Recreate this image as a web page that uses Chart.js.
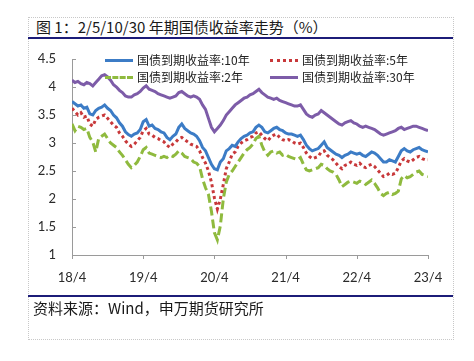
<!DOCTYPE html>
<html>
<head>
<meta charset="utf-8">
<script src="https://cdn.jsdelivr.net/npm/chart.js@4.4.1/dist/chart.umd.min.js"></script>
<style>
    body { margin: 0; background: #fff; }
    #wrap { position: relative; width: 474px; height: 361px; overflow: hidden; }
    #frame { position: absolute; left: 28px; top: 17px; width: 424px; height: 321px; border: 1px dotted #c8c8c8; }
    .rule { position: absolute; left: 28px; width: 425px; height: 2px; background: #1c1c78; }
    #title { position: absolute; left: 36px; top: 17px; font: 15px "Noto Sans CJK SC", sans-serif; color: #1a1a1a; line-height: 20px; white-space: nowrap; }
    #source { position: absolute; left: 33px; top: 298px; font: 15px "Noto Sans CJK SC", sans-serif; color: #1a1a1a; line-height: 20px; white-space: nowrap; }
    canvas { position: absolute; left: 0; top: 0; }
    .leg { position: absolute; font: 12px "Noto Sans CJK SC", sans-serif; color: #222; line-height: 16px; white-space: nowrap; }
    .leg i { display: inline-block; width: 28px; height: 0; border-top-width: 3px; vertical-align: middle; margin-right: 4px; position: relative; top: -1px; }
</style>
</head>
<body>
<div id="wrap">
    <div id="frame"></div>
    <div id="title">图 1：2/5/10/30 年期国债收益率走势（%）</div>
    <div class="rule" style="top:37px"></div>
    <canvas id="yieldChart" width="474" height="361"></canvas>
    <div class="rule" style="top:295px"></div>
    <div id="source">资料来源：Wind，申万期货研究所</div>
    <div id="legend"></div>
</div>
<script>
// series names and colours
const seriesNames = ['国债到期收益率:10年', '国债到期收益率:5年', '国债到期收益率:2年', '国债到期收益率:30年'];
const xTickLabels = ['18/4', '19/4', '20/4', '21/4', '22/4', '23/4'];

// half-month steps from 2018/4 to 2023/4
const halfMonths = Array.from({ length: 121 }, (_, i) => i / 2);

const y10 = [
    3.74, 3.70, 3.66, 3.68, 3.62, 3.64, 3.52, 3.50, 3.58, 3.62, 3.64, 3.68,
    3.62, 3.58, 3.50, 3.45, 3.36, 3.30, 3.20, 3.15, 3.12, 3.16, 3.18, 3.24,
    3.38, 3.42, 3.30, 3.32, 3.26, 3.24, 3.20, 3.18, 3.10, 3.06, 3.12, 3.16,
    3.28, 3.34, 3.26, 3.22, 3.18, 3.16, 3.12, 3.04, 2.92, 2.86, 2.74, 2.62,
    2.54, 2.52, 2.66, 2.72, 2.86, 2.90, 2.96, 2.94, 3.02, 3.08, 3.12, 3.14,
    3.18, 3.20, 3.28, 3.32, 3.28, 3.20, 3.18, 3.22, 3.26, 3.28, 3.24, 3.22,
    3.18, 3.16, 3.16, 3.14, 3.12, 3.14, 3.06, 2.96, 2.90, 2.86, 2.88, 2.90,
    2.96, 3.02, 2.92, 2.88, 2.84, 2.80, 2.78, 2.74, 2.78, 2.80, 2.84, 2.82,
    2.80, 2.82, 2.78, 2.76, 2.80, 2.84, 2.82, 2.78, 2.72, 2.66, 2.66, 2.70,
    2.68, 2.66, 2.76, 2.86, 2.90, 2.86, 2.84, 2.88, 2.90, 2.92, 2.88, 2.86,
    2.84
];
const y5 = [
    3.62, 3.56, 3.50, 3.54, 3.46, 3.48, 3.34, 3.30, 3.42, 3.46, 3.48, 3.50,
    3.44, 3.38, 3.32, 3.28, 3.18, 3.12, 3.04, 2.98, 2.94, 2.98, 3.04, 3.10,
    3.22, 3.26, 3.16, 3.14, 3.10, 3.08, 3.04, 3.02, 2.96, 2.92, 2.98, 3.02,
    3.08, 3.10, 3.06, 3.02, 2.98, 2.96, 2.94, 2.86, 2.74, 2.64, 2.50, 2.30,
    2.02, 1.82, 2.00, 2.26, 2.54, 2.66, 2.80, 2.84, 2.94, 3.00, 3.04, 3.06,
    3.10, 3.12, 3.18, 3.20, 3.14, 3.08, 3.04, 3.10, 3.14, 3.16, 3.10, 3.06,
    3.04, 3.06, 3.04, 3.00, 2.98, 3.00, 2.92, 2.82, 2.76, 2.72, 2.74, 2.76,
    2.84, 2.86, 2.78, 2.74, 2.70, 2.64, 2.58, 2.54, 2.60, 2.62, 2.66, 2.62,
    2.60, 2.64, 2.58, 2.56, 2.60, 2.62, 2.58, 2.52, 2.46, 2.40, 2.42, 2.46,
    2.44, 2.46, 2.56, 2.68, 2.72, 2.68, 2.66, 2.70, 2.74, 2.76, 2.72, 2.70,
    2.70
];
const y2 = [
    3.34, 3.22, 3.30, 3.28, 3.24, 3.26, 3.10, 3.02, 2.84, 3.08, 3.12, 3.16,
    3.08, 3.00, 2.96, 2.92, 2.84, 2.78, 2.70, 2.62, 2.56, 2.60, 2.66, 2.76,
    2.88, 2.92, 2.82, 2.80, 2.78, 2.76, 2.74, 2.76, 2.74, 2.78, 2.76, 2.80,
    2.86, 2.82, 2.76, 2.74, 2.72, 2.66, 2.64, 2.58, 2.36, 2.20, 2.08, 1.78,
    1.40, 1.27, 1.52, 2.00, 2.30, 2.44, 2.50, 2.58, 2.66, 2.74, 2.82, 2.88,
    2.92, 2.98, 3.08, 3.12, 2.96, 2.84, 2.78, 2.84, 2.86, 2.82, 2.84, 2.78,
    2.80, 2.76, 2.74, 2.72, 2.70, 2.74, 2.62, 2.52, 2.50, 2.52, 2.54, 2.56,
    2.62, 2.60, 2.54, 2.50, 2.48, 2.44, 2.34, 2.22, 2.26, 2.30, 2.32, 2.30,
    2.28, 2.32, 2.30, 2.26, 2.30, 2.34, 2.28, 2.20, 2.10, 2.06, 2.10, 2.12,
    2.08, 2.10, 2.14, 2.36, 2.42, 2.38, 2.40, 2.44, 2.48, 2.50, 2.44, 2.42,
    2.40
];
const y30 = [
    4.12, 4.08, 4.10, 4.06, 4.04, 4.08, 4.06, 4.02, 4.08, 4.14, 4.20, 4.22,
    4.18, 4.12, 4.04, 4.00, 3.94, 3.90, 3.84, 3.82, 3.82, 3.86, 3.88, 3.92,
    3.98, 4.02, 3.96, 3.94, 3.92, 3.88, 3.86, 3.84, 3.82, 3.80, 3.82, 3.84,
    3.90, 3.92, 3.88, 3.84, 3.82, 3.84, 3.82, 3.78, 3.68, 3.60, 3.44, 3.28,
    3.20, 3.26, 3.32, 3.40, 3.50, 3.56, 3.62, 3.68, 3.72, 3.76, 3.80, 3.82,
    3.86, 3.88, 3.92, 3.96, 3.90, 3.86, 3.82, 3.80, 3.78, 3.80, 3.76, 3.74,
    3.72, 3.70, 3.68, 3.66, 3.66, 3.68, 3.60, 3.52, 3.48, 3.46, 3.50, 3.52,
    3.58, 3.54, 3.50, 3.46, 3.42, 3.38, 3.34, 3.32, 3.36, 3.38, 3.40, 3.36,
    3.34, 3.30, 3.28, 3.30, 3.28, 3.26, 3.24, 3.20, 3.16, 3.14, 3.16, 3.18,
    3.20, 3.22, 3.26, 3.28, 3.24, 3.26, 3.28, 3.30, 3.30, 3.28, 3.26, 3.24,
    3.22
];

const colors = ['#3c7cc6', '#c8383a', '#8fba3e', '#7d5ca8'];
const dashes = [[], [3, 3], [9, 4], []];
const lineStyles = ['solid', 'dotted', 'dashed', 'solid'];

function toPoints(values) {
    return values.map((v, i) => ({ x: halfMonths[i], y: v }));
}

// small tick marks on both axes (grid is hidden)
const tickMarks = {
    id: 'tickMarks',
    beforeDatasetsDraw(chart) {
        const { ctx, chartArea, scales: { x, y } } = chart;
        ctx.save();
        ctx.strokeStyle = '#9a9a9a';
        ctx.lineWidth = 1;
        ctx.beginPath();
        x.ticks.forEach(t => {
            const px = Math.round(x.getPixelForValue(t.value)) + 0.5;
            ctx.moveTo(px, chartArea.bottom);
            ctx.lineTo(px, chartArea.bottom + 4);
        });
        y.ticks.forEach(t => {
            const py = Math.round(y.getPixelForValue(t.value)) + 0.5;
            ctx.moveTo(chartArea.left, py);
            ctx.lineTo(chartArea.left + 4, py);
        });
        ctx.stroke();
        ctx.restore();
    }
};

const ctx = document.getElementById('yieldChart').getContext('2d');
const yieldChart = new Chart(ctx, {
    type: 'line',
    data: {
        datasets: [y10, y5, y2, y30].map((vals, i) => ({
            label: seriesNames[i],
            data: toPoints(vals),
            borderColor: colors[i],
            borderWidth: 3,
            borderDash: dashes[i],
            pointRadius: 0,
            tension: 0,
            fill: false
        }))
    },
    options: {
        responsive: false,
        animation: false,
        layout: { padding: { left: 30, right: 46, top: 59, bottom: 76 } },
        plugins: {
            legend: { display: false },
            tooltip: { enabled: false }
        },
        scales: {
            x: {
                type: 'linear',
                min: 0,
                max: 60,
                grid: { display: false },
                border: { color: '#9a9a9a', width: 1 },
                ticks: {
                    stepSize: 12,
                    padding: 7,
                    color: '#2a2a2a',
                    font: { family: 'Lato', size: 13 },
                    maxRotation: 0,
                    callback: function(value) {
                        return xTickLabels[value / 12];
                    }
                },
                afterFit: function(scale) { scale.height = 30; }
            },
            y: {
                min: 1,
                max: 4.5,
                grid: { display: false },
                border: { color: '#9a9a9a', width: 1 },
                ticks: {
                    stepSize: 0.5,
                    padding: 8,
                    color: '#2a2a2a',
                    font: { family: 'Lato', size: 13 },
                    callback: function(value) { return String(value); }
                },
                afterFit: function(scale) { scale.width = 42; }
            }
        }
    },
    plugins: [tickMarks]
});

// legend laid out like the original, two rows inside the plot
const legendPos = [[105, 52], [270, 52], [105, 69], [270, 69]];
const legend = document.getElementById('legend');
seriesNames.forEach((name, i) => {
    const item = document.createElement('div');
    item.className = 'leg';
    item.style.left = legendPos[i][0] + 'px';
    item.style.top = legendPos[i][1] + 'px';
    item.innerHTML = '<i style="border-top-style:' + lineStyles[i] + ';border-top-color:' + colors[i] + '"></i>' + name;
    legend.appendChild(item);
});
</script>
</body>
</html>
